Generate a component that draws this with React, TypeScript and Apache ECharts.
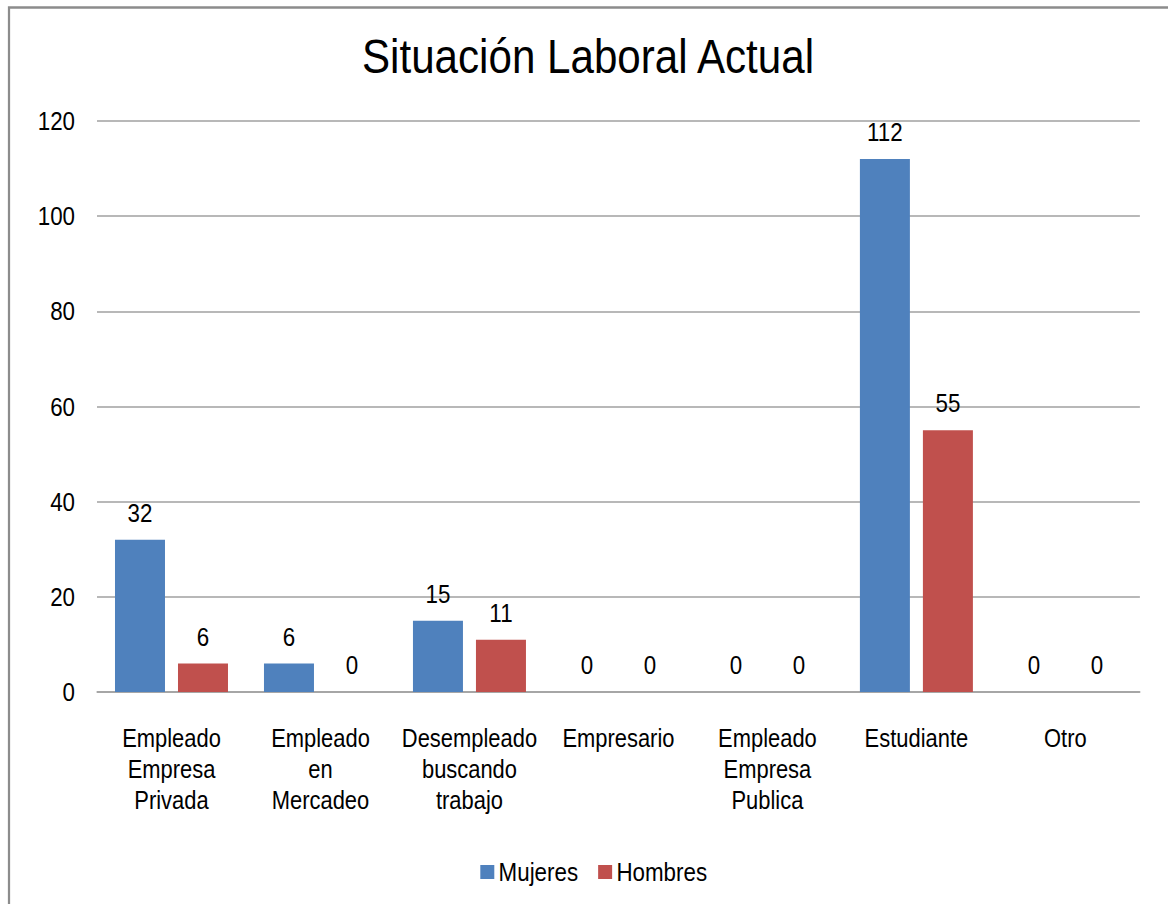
import React, { useEffect, useRef } from "react";
import * as echarts from "echarts";

const TITLE = "Situación Laboral Actual";
const categories = [
  "Empleado\nEmpresa\nPrivada",
  "Empleado\nen\nMercadeo",
  "Desempleado\nbuscando\ntrabajo",
  "Empresario",
  "Empleado\nEmpresa\nPublica",
  "Estudiante",
  "Otro",
];
const mujeres = [32, 6, 15, 0, 0, 112, 0];
const hombres = [6, 0, 11, 0, 0, 55, 0];
const yTicks = { min: 0, max: 120, interval: 20 };

const FONT = "'Liberation Sans', Arial, sans-serif";
// horizontal condensing factor to mimic a narrow typeface
const S = 0.86;
const W = 1168 / S;
const H = 904;

export default function App() {
  const ref = useRef<HTMLDivElement>(null);
  useEffect(() => {
    if (!ref.current) return;
    const chart = echarts.init(ref.current, undefined, { renderer: "svg" });
    const label = {
      show: true,
      position: "top",
      distance: 14,
      fontFamily: FONT,
      fontSize: 26,
      color: "#000",
    };
    chart.setOption({
      animation: false,
      backgroundColor: "#ffffff",
      textStyle: { fontFamily: FONT, color: "#000" },
      title: {
        text: TITLE,
        left: 362 / S - 5,
        top: 27,
        textStyle: { fontFamily: FONT, fontSize: 49, fontWeight: "normal", color: "#000" },
      },
      graphic: [
        {
          type: "polyline",
          shape: { points: [[9 / S, H], [9 / S, 7.5], [W, 7.5]] },
          style: { stroke: "#8c8c8c", lineWidth: 2.6, fill: "none" },
          silent: true,
        },
      ],
      legend: {
        left: 476 / S,
        top: 854,
        itemWidth: 14 / S,
        itemHeight: 14,
        itemGap: 20 / S,
        icon: "rect",
        textStyle: { fontFamily: FONT, fontSize: 26, color: "#000", padding: [0, 0, 0, 0] },
        data: ["Mujeres", "Hombres"],
      },
      grid: { left: 97 / S, right: 28 / S, top: 121, bottom: 212, containLabel: false },
      xAxis: {
        type: "category",
        data: categories,
        axisLine: { lineStyle: { color: "#a0a0a0", width: 1.5 } },
        axisTick: { show: false },
        axisLabel: {
          interval: 0,
          margin: 30,
          fontFamily: FONT,
          fontSize: 25.5,
          lineHeight: 31,
          color: "#000",
        },
      },
      yAxis: {
        type: "value",
        min: yTicks.min,
        max: yTicks.max,
        interval: yTicks.interval,
        axisLine: { show: false },
        axisTick: { show: false },
        axisLabel: { margin: 22 / S, fontFamily: FONT, fontSize: 26, color: "#000" },
        splitLine: { lineStyle: { color: "#a0a0a0", width: 1.5 } },
      },
      series: [
        {
          name: "Mujeres",
          type: "bar",
          data: mujeres,
          barWidth: 50 / S,
          barGap: "26%",
          itemStyle: { color: "#4F81BD" },
          label,
        },
        {
          name: "Hombres",
          type: "bar",
          data: hombres,
          barWidth: 50 / S,
          itemStyle: { color: "#C0504D" },
          label,
        },
      ],
    });
    return () => chart.dispose();
  }, []);
  return (
    <div
      style={{ position: "fixed", left: 0, top: 0, width: 1168, height: H, overflow: "hidden", background: "#fff" }}
    >
      <div
        ref={ref}
        style={{
          position: "absolute",
          left: 0,
          top: 0,
          width: W,
          height: H,
          transform: `scaleX(${S})`,
          transformOrigin: "0 0",
        }}
      />
    </div>
  );
}
